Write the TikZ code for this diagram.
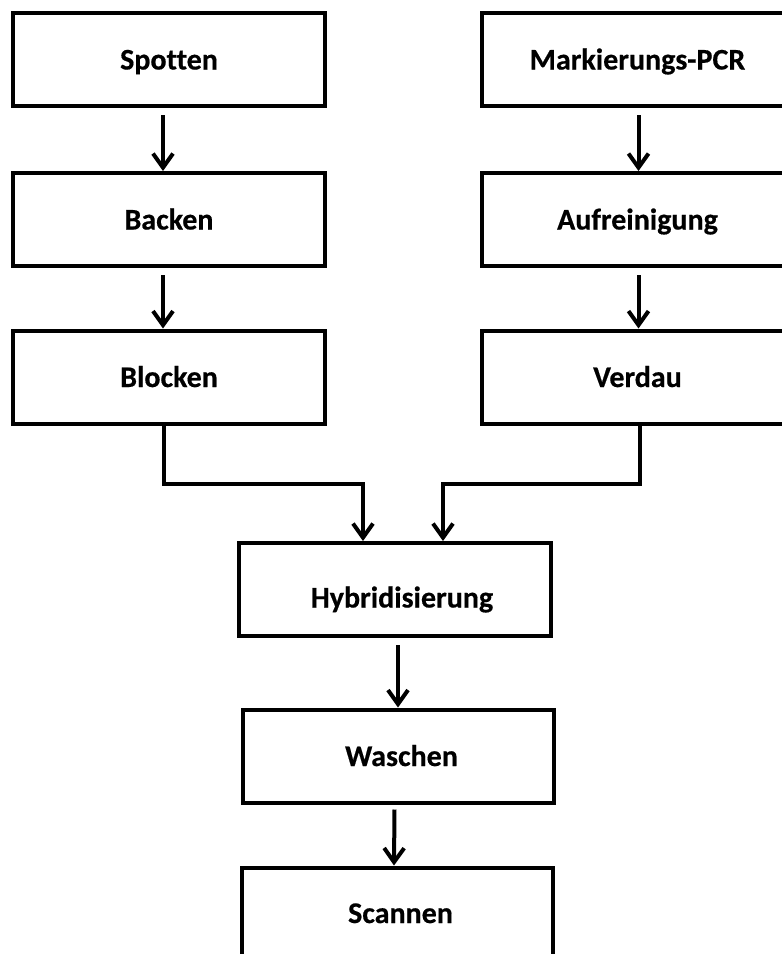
\documentclass[tikz,border=0pt]{standalone}
\usepackage{fontspec}
\setmainfont{Carlito}[Ligatures={NoCommon}, BoldFeatures={FakeBold=0.5}]
\usetikzlibrary{arrows.meta}

\begin{document}
\begin{tikzpicture}[x=1pt,y=-1pt,
  stepbox/.style={draw=black, line width=4pt, fill=white, inner sep=0pt,
    minimum width=312pt, minimum height=93pt, text height=20pt, text depth=0pt,
    font=\fontsize{30}{36}\selectfont\bfseries},
  arr/.style={line width=4pt, -{Straight Barb[length=14pt,width=20pt]}},
  link/.style={line width=4pt}]
\useasboundingbox (0,0) rectangle (782,954);
\clip (0,0) rectangle (782,954);

% left column
\node[stepbox] (spot) at (169,59.5)  {Spotten};
\node[stepbox] (back) at (169,219.5) {Backen};
\node[stepbox] (block) at (169,377)  {Blocken};

% right column
\node[stepbox] (mark) at (637.5,59.5)  {Markierungs-PCR};
\node[stepbox] (auf)  at (637.5,219.5) {Aufreinigung};
\node[stepbox] (verd) at (637.5,377)   {Verdau};

% central column
\node[stepbox, text height=36pt] (hyb) at (395,589.5) {\hspace*{14pt}Hybridisierung};
\node[stepbox, minimum width=311pt] (wash) at (398.5,756) {\hspace*{6pt}Waschen};
\node[stepbox, minimum width=311pt, text height=18pt] (scan) at (397.5,914) {\hspace*{6pt}Scannen};

% junction points of the merging connectors
\coordinate (jl) at (164,484);
\coordinate (jr) at (640,484);

% straight arrows
\draw[arr] ([shift={(-6,7)}]spot.south) -- ([xshift=-6]back.north);
\draw[arr] ([shift={(-6,7)}]back.south) -- ([xshift=-6]block.north);
\draw[arr] ([shift={(1,7)}]mark.south) -- ([xshift=1]auf.north);
\draw[arr] ([shift={(1,7)}]auf.south)  -- ([xshift=1]verd.north);
\draw[arr] ([shift={(3,7)}]hyb.south)  -- ([xshift=-0.5]wash.north);
\draw[arr] ([shift={(-4,5)}]wash.south) -- ([xshift=-3.5]scan.north);

% merging connectors into the hybridisation step
\draw[arr] ([xshift=-5]block.south) -- (jl) -| ([xshift=-32]hyb.north);
\draw[arr] ([xshift=2.5]verd.south) -- (jr) -| ([xshift=48]hyb.north);
\end{tikzpicture}
\end{document}
